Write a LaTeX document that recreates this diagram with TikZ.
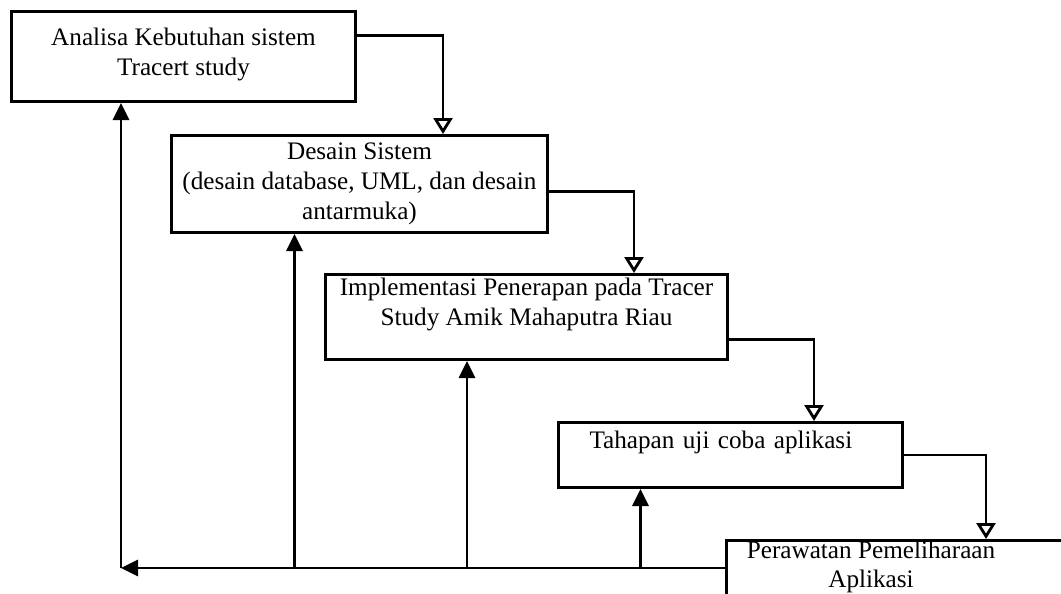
\documentclass[tikz,border=0pt]{standalone}
\usepackage{fontspec}
\setmainfont{Liberation Serif}
\usetikzlibrary{positioning}
\usetikzlibrary{arrows.meta}

\begin{document}
\begin{tikzpicture}[x=0.5pt,y=-0.5pt]
\tikzset{stage/.style={rectangle,draw=black,line width=1.5pt,inner sep=0pt,
		align=center,font=\fontsize{12.6}{15}\selectfont},
	next/.style={-{Triangle[open,width=9.5pt,length=8pt]},line width=1.4pt},
	back/.style={-{Triangle[width=8pt,length=8.5pt]},line width=1.4pt}}

\useasboundingbox (0,0) rectangle (1061,594);
\clip (0,0) rectangle (1061,594);

\node[stage,anchor=north west,minimum width=172pt,minimum height=45pt] (analisa) at (10,10) {Analisa Kebutuhan sistem\\Tracert study\\[-10pt]\mbox{}};

\node[stage,anchor=north west,minimum width=188pt,minimum height=48.5pt] (desain) at (170,134) {Desain Sistem\\(desain database, UML, dan desain\\antarmuka)};

\node[stage,anchor=north west,minimum width=201pt,minimum height=42.5pt] (implementasi) at (324,273) {Implementasi Penerapan pada Tracer\\Study Amik Mahaputra Riau\\\mbox{}};

\node[stage,anchor=north west,minimum width=172pt,minimum height=32.5pt,inner xsep=15.5pt,text width=141pt,align=left] (ujicoba) at (557,421) {Tahapan uji coba aplikasi\\\mbox{}};

\node[stage,anchor=north west,minimum width=200pt,minimum height=60pt] (perawatan) at (725,539) {};
\node[font=\fontsize{12.6}{14.5}\selectfont,align=center] (perawatanteks) at (871,567) {Perawatan Pemeliharaan\\Aplikasi};

% alur maju
\draw[next] ([yshift=10.5pt]analisa.east) -| ([xshift=-53pt]desain.north east);
\draw[next] ([yshift=-3.75pt]desain.east) -| ([xshift=-47.5pt]implementasi.north east);
\draw[next] ([yshift=-11.25pt]implementasi.east) -| ([xshift=-45pt]ujicoba.north east);
\draw[next] (ujicoba.east) -| ([xshift=130.5pt]perawatan.north west);

% alur balik
\coordinate (sudut) at (121,568);
\coordinate (f2) at ([xshift=-32.5pt]desain.south);
\coordinate (f3) at ([xshift=-29.75pt]implementasi.south);
\coordinate (f4) at ([xshift=-45pt]ujicoba.south);

\draw[back] ([yshift=-14.5pt]perawatan.north west) -- (sudut);
\draw[back] (sudut) -- (sudut |- analisa.south);
\draw[back] (f2 |- sudut) -- (f2);
\draw[back] (f3 |- sudut) -- (f3);
\draw[back] (f4 |- sudut) -- (f4);
\end{tikzpicture}
\end{document}
